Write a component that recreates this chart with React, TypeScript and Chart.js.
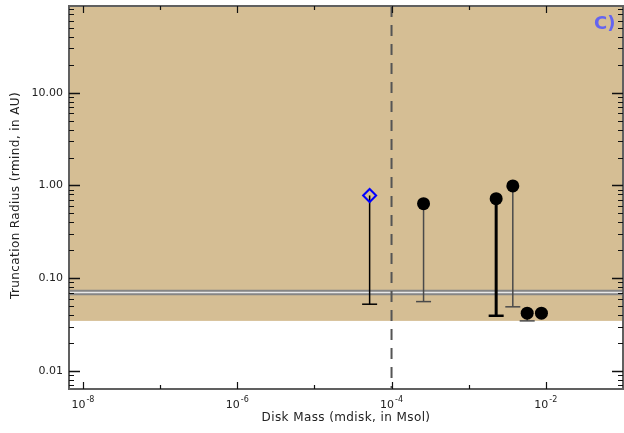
import React, { useEffect, useRef } from "react";
import { Chart, registerables } from "chart.js";

Chart.register(...registerables);

// ---- data ----
const diskMass = [5.2e-5, 2.6e-4, 2.27e-3, 3.73e-3, 5.73e-3, 8.77e-3];
const truncRadius = [0.78, 0.636, 0.72, 0.99, 0.042, 0.042];
const radiusLow = [0.0525, 0.056, 0.0394, 0.0492, 0.0347, null];
const yTickValues = [10, 1, 0.1, 0.01];
const yTickLabels = ["10.00", "1.00", "0.10", "0.01"];
const xTickValues = [1e-8, 1e-6, 1e-4, 1e-2];
const xTickExponents = ["-8", "-6", "-4", "-2"];
const fillFloor = 0.0347;
const thresholdRadius = 0.0704;
const massLimit = 1e-4;
const xRange = [6.6e-9, 0.1];
const yRange = [0.0064, 86];

// ---- styles ----
const barWidths = [1.5, 1.5, 3, 1.5, 1.5, 1.5];
const barColors = ["#000000", "#4a4a4a", "#000000", "#4a4a4a", "#4a4a4a", "#4a4a4a"];
const FONT = "DejaVu Sans";

const decorPlugin = {
  id: "decor",
  beforeDatasetsDraw(chart: any) {
    const { ctx, chartArea: a, scales } = chart;
    const xs = scales.x;
    const ys = scales.y;
    ctx.save();
    // tan region
    const yf = ys.getPixelForValue(fillFloor);
    ctx.fillStyle = "#d5be94";
    ctx.fillRect(a.left, a.top, a.right - a.left, yf - a.top);
    // threshold band
    const yt = ys.getPixelForValue(thresholdRadius);
    ctx.strokeStyle = "#858585";
    ctx.lineWidth = 5.5;
    ctx.beginPath();
    ctx.moveTo(a.left, yt);
    ctx.lineTo(a.right, yt);
    ctx.stroke();
    ctx.strokeStyle = "#e8e8e8";
    ctx.lineWidth = 1.5;
    ctx.beginPath();
    ctx.moveTo(a.left, yt);
    ctx.lineTo(a.right, yt);
    ctx.stroke();
    // dashed mass limit
    const xl = xs.getPixelForValue(massLimit);
    ctx.strokeStyle = "#555555";
    ctx.lineWidth = 2;
    ctx.setLineDash([11, 8]);
    ctx.beginPath();
    ctx.moveTo(xl, a.top);
    ctx.lineTo(xl, a.bottom);
    ctx.stroke();
    ctx.setLineDash([]);
    // error bars
    for (let i = 0; i < diskMass.length; i++) {
      const lo = radiusLow[i];
      if (lo == null) continue;
      const px = xs.getPixelForValue(diskMass[i]);
      const py = ys.getPixelForValue(truncRadius[i]);
      const pl = ys.getPixelForValue(lo);
      ctx.strokeStyle = barColors[i];
      ctx.lineWidth = barWidths[i];
      ctx.beginPath();
      ctx.moveTo(px, py);
      ctx.lineTo(px, pl);
      ctx.stroke();
      ctx.lineWidth = barWidths[i] >= 3 ? 2.5 : 1.5;
      ctx.beginPath();
      ctx.moveTo(px - 7.5, pl);
      ctx.lineTo(px + 7.5, pl);
      ctx.stroke();
    }
    ctx.restore();
  },
  afterDatasetsDraw(chart: any) {
    const { ctx, chartArea: a, scales } = chart;
    const xs = scales.x;
    const ys = scales.y;
    ctx.save();
    // frame
    ctx.strokeStyle = "#606060";
    ctx.lineWidth = 2;
    ctx.strokeRect(a.left, a.top, a.right - a.left, a.bottom - a.top);
    // y ticks
    ctx.strokeStyle = "#111111";
    for (let e = -3; e <= 2; e++) {
      for (let m = 1; m <= 9; m++) {
        const v = m * Math.pow(10, e);
        if (v < yRange[0] || v > yRange[1]) continue;
        const py = Math.round(ys.getPixelForValue(v)) + 0.5;
        const len = m === 1 ? 11 : 5;
        ctx.lineWidth = m === 1 ? 1.5 : 1;
        ctx.beginPath();
        ctx.moveTo(a.left, py);
        ctx.lineTo(a.left + len, py);
        ctx.moveTo(a.right, py);
        ctx.lineTo(a.right - len, py);
        ctx.stroke();
      }
    }
    // x ticks
    for (let e = -9; e <= 0; e++) {
      const v = Math.pow(10, e);
      if (v < xRange[0] || v >= xRange[1]) continue;
      const px = Math.round(xs.getPixelForValue(v)) + 0.5;
      const len = e % 2 === 0 ? 7 : 4;
      ctx.lineWidth = 1.2;
      ctx.beginPath();
      ctx.moveTo(px, a.bottom);
      ctx.lineTo(px, a.bottom - len);
      ctx.moveTo(px, a.top);
      ctx.lineTo(px, a.top + len);
      ctx.stroke();
    }
    // y labels
    ctx.fillStyle = "#222222";
    ctx.font = `11px "${FONT}"`;
    ctx.textAlign = "right";
    ctx.textBaseline = "middle";
    yTickValues.forEach((v, i) => {
      ctx.fillText(yTickLabels[i], a.left - 6, ys.getPixelForValue(v));
    });
    // x labels with superscripts
    ctx.textAlign = "left";
    ctx.textBaseline = "alphabetic";
    xTickValues.forEach((v, i) => {
      const px = xs.getPixelForValue(v);
      ctx.font = `11px "${FONT}"`;
      const wBase = ctx.measureText("10").width;
      ctx.font = `8px "${FONT}"`;
      const wExp = ctx.measureText(xTickExponents[i]).width;
      const x0 = px - (wBase + wExp + 1) / 2;
      ctx.font = `11px "${FONT}"`;
      ctx.fillText("10", x0, a.bottom + 19);
      ctx.font = `8px "${FONT}"`;
      ctx.fillText(xTickExponents[i], x0 + wBase + 1, a.bottom + 13);
    });
    // axis titles
    ctx.font = `12px "${FONT}"`;
    (ctx as any).letterSpacing = "0.4px";
    ctx.textAlign = "center";
    ctx.textBaseline = "middle";
    ctx.fillText("Disk Mass (mdisk, in Msol)", (a.left + a.right) / 2, a.bottom + 29);
    ctx.save();
    ctx.translate(16, (a.top + a.bottom) / 2 - 2);
    ctx.rotate(-Math.PI / 2);
    ctx.fillText("Truncation Radius (rmind, in AU)", 0, 0);
    ctx.restore();
    (ctx as any).letterSpacing = "0px";
    // panel label
    ctx.font = `bold 18px "${FONT}"`;
    ctx.fillStyle = "#6464f0";
    ctx.textAlign = "left";
    ctx.textBaseline = "alphabetic";
    ctx.fillText("C)", 594, 29);
    ctx.restore();
  },
};

export default function App() {
  const ref = useRef<HTMLCanvasElement>(null);
  useEffect(() => {
    if (!ref.current) return;
    const points = diskMass.map((x, i) => ({ x, y: truncRadius[i] }));
    const chart = new Chart(ref.current, {
      type: "scatter",
      data: {
        datasets: [
          {
            data: points,
            pointStyle: points.map((_, i) => (i === 0 ? "rectRot" : "circle")) as any,
            pointRadius: points.map(() => 6.5),
            backgroundColor: points.map((_, i) => (i === 0 ? "rgba(0,0,0,0)" : "#000000")),
            borderColor: points.map((_, i) => (i === 0 ? "#0000ff" : "#000000")),
            borderWidth: points.map((_, i) => (i === 0 ? 2 : 0)),
          },
        ],
      },
      options: {
        responsive: false,
        animation: false,
        layout: { autoPadding: false, padding: { left: 69, top: 6, right: 1, bottom: 44 } },
        plugins: { legend: { display: false }, tooltip: { enabled: false } },
        scales: {
          x: { type: "logarithmic", min: xRange[0], max: xRange[1], display: false },
          y: { type: "logarithmic", min: yRange[0], max: yRange[1], display: false },
        },
      },
      plugins: [decorPlugin],
    });
    return () => chart.destroy();
  }, []);
  return (
    <div style={{ position: "absolute", left: 0, top: 0, width: 624, height: 433 }}>
      <canvas ref={ref} width={624} height={433} style={{ display: "block" }} />
    </div>
  );
}
